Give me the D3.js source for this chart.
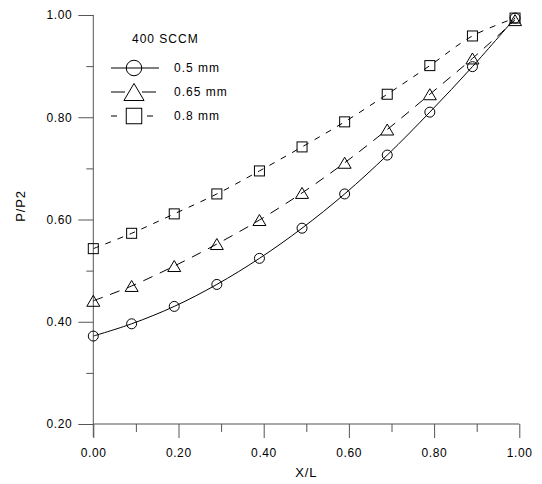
<!DOCTYPE html>
<html><head><meta charset="utf-8">
<script src="https://cdn.jsdelivr.net/npm/d3@7"></script>
<style>body{margin:0;background:#fff}svg{display:block}text{font-family:"Liberation Sans",Arial,sans-serif;fill:#000}</style>
</head><body><svg id="c" width="542" height="484"></svg>
<script>
const xValues = [0, 0.09, 0.19, 0.29, 0.39, 0.49, 0.59, 0.69, 0.79, 0.89, 0.99];
const series05 = [0.372, 0.396, 0.430, 0.473, 0.524, 0.583, 0.650, 0.726, 0.810, 0.899, 0.994];
const series065 = [0.441, 0.470, 0.509, 0.552, 0.599, 0.652, 0.711, 0.776, 0.845, 0.915, 0.990];
const series08 = [0.543, 0.573, 0.611, 0.650, 0.695, 0.742, 0.791, 0.845, 0.901, 0.959, 0.994];
const seriesNames = ["0.5 mm", "0.65 mm", "0.8 mm"];
const legendTitle = "400 SCCM";
const xTickLabels = ["0.00","0.20","0.40","0.60","0.80","1.00"];
const yTickLabels = ["0.20","0.40","0.60","0.80","1.00"];
const xTitle = "X/L", yTitle = "P/P2";

const svg = d3.select("#c");
const x = d3.scaleLinear().domain([0,1]).range([93.3,519.3]);
const y = d3.scaleLinear().domain([0.2,1]).range([424,15]);
const axisCol = "#555";

// axes
const gx = svg.append("g").attr("transform","translate(0,424)");
gx.call(d3.axisBottom(x).tickValues(d3.range(0,1.001,0.1)).tickSize(8).tickFormat(""));
gx.call(g=>g.selectAll(".tick line").filter((d,i)=>i%2===0).attr("y2",14));
gx.selectAll(".domain").attr("d", `M${x(0)},0H${x(1)}`);
gx.selectAll("path,line").attr("stroke",axisCol);
const gxl = svg.append("g").attr("transform","translate(0,424)");
xTickLabels.forEach((t,i)=>{
  gxl.append("text").attr("x",x(i*0.2)+0.3).attr("y",33.3).attr("text-anchor","middle")
    .attr("font-size",12).attr("letter-spacing",0.6).text(t);
});
svg.append("text").attr("x",(x(0)+x(1))/2).attr("y",477).attr("text-anchor","middle")
  .attr("font-size",13).attr("letter-spacing",0.8).text(xTitle);

const gy = svg.append("g").attr("transform","translate(93.3,0)");
gy.call(d3.axisLeft(y).tickValues(d3.range(0.2,1.001,0.1)).tickSize(7).tickFormat(""));
gy.call(g=>g.selectAll(".tick line").filter((d,i)=>i%2===0).attr("x2",-15));
gy.selectAll(".domain").attr("d", `M0,${y(1)}V${y(0.2)+13}`);
gy.selectAll("path,line").attr("stroke",axisCol);
yTickLabels.forEach((t,i)=>{
  svg.append("text").attr("x",72.3).attr("y",y(0.2+i*0.2)+4.3).attr("text-anchor","end")
    .attr("font-size",12).attr("letter-spacing",0.6).text(t);
});
svg.append("text").attr("transform","translate(25,206) rotate(-90)").attr("text-anchor","middle")
  .attr("font-size",13).attr("letter-spacing",0.8).text(yTitle);

// series
const allSeries = [series05, series065, series08];
const dashes = [null, "10,8", "6,7"];
const line = d3.line().x(d=>x(d[0])).y(d=>y(d[1])).curve(d3.curveCatmullRom);
function marker(g, type, cx, cy, s){
  if(type===0) g.append("circle").attr("cx",cx).attr("cy",cy).attr("r",5*s);
  else if(type===1){ const w=6.5*s,h=11*s; g.append("path").attr("d",`M${cx},${cy-h/2}L${cx+w},${cy+h/2}L${cx-w},${cy+h/2}Z`);}
  else g.append("rect").attr("x",cx-5*s).attr("y",cy-5*s).attr("width",10*s).attr("height",10*s);
}
allSeries.forEach((vals,k)=>{
  const pts = xValues.map((xv,i)=>[xv,vals[i]]);
  svg.append("path").attr("d",line(pts)).attr("fill","none").attr("stroke","#000").attr("stroke-width",1)
    .attr("stroke-dasharray",dashes[k]);
  const g = svg.append("g").attr("fill","none").attr("stroke","#000").attr("stroke-width",1);
  pts.forEach(p=>marker(g,k,x(p[0]),y(p[1]),1));
});

// legend
svg.append("text").attr("x",132).attr("y",42.5).attr("font-size",12).attr("letter-spacing",1).text(legendTitle);
const ly = [68,92,116];
seriesNames.forEach((n,k)=>{
  const lg = svg.append("g").attr("fill","none").attr("stroke","#000").attr("stroke-width",1);
  if(k===0) lg.append("line").attr("x1",111).attr("x2",159).attr("y1",ly[k]).attr("y2",ly[k]);
  else if(k===1){ lg.append("line").attr("x1",111).attr("x2",125).attr("y1",ly[k]).attr("y2",ly[k]);
    lg.append("line").attr("x1",142).attr("x2",156).attr("y1",ly[k]).attr("y2",ly[k]); }
  else { lg.append("line").attr("x1",111).attr("x2",117).attr("y1",ly[k]).attr("y2",ly[k]);
    lg.append("line").attr("x1",147).attr("x2",153).attr("y1",ly[k]).attr("y2",ly[k]); }
  marker(lg,k,134,ly[k],1.55);
  svg.append("text").attr("x",174).attr("y",ly[k]+4).attr("font-size",12).attr("letter-spacing",1).text(n);
});
</script></body></html>
